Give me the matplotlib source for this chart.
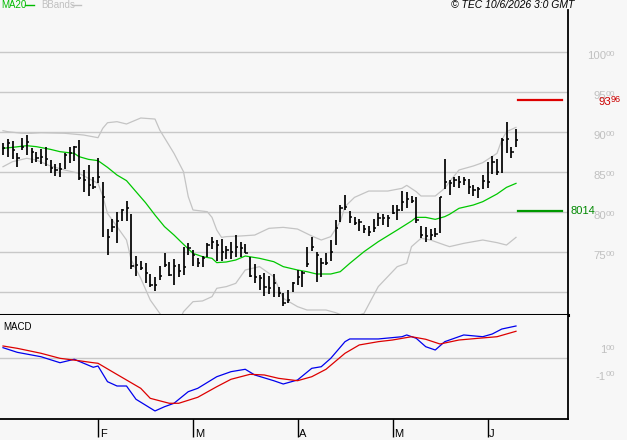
import matplotlib
matplotlib.use("Agg")
import matplotlib.pyplot as plt

plt.rcParams['font.family'] = ['Liberation Sans', 'DejaVu Sans']

# ---------------- data ----------------
high = [8866, 8908, 8888, 8733, 8921, 8962, 8796, 8754, 8783, 8817,
        8650, 8600, 8617, 8742, 8808, 8825, 8900, 8525, 8588, 8442,
        8671, 8379, 7783, 7908, 8004, 8037, 8133, 7971, 7450, 7387,
        7358, 7225, 7192, 7325, 7483, 7379, 7408, 7350, 7567, 7608,
        7525, 7421, 7450, 7608, 7692, 7650, 7658, 7575, 7629, 7712,
        7621, 7600, 7442, 7350, 7212, 7233, 7200, 7225, 7067, 6992,
        7025, 7121, 7275, 7267, 7558, 7683, 7504, 7421, 7492, 7650,
        7900, 8087, 8212, 8017, 7942, 7917, 7838, 7825, 7908, 7983,
        7975, 7962, 8083, 8087, 8262, 8254, 8200, 8183, 7825, 7808,
        7787, 7796, 8192, 8658, 8400, 8433, 8450, 8433, 8408, 8338,
        8317, 8462, 8629, 8700, 8658, 8921, 9121, 8817, 9038]
low = [8712, 8692, 8658, 8567, 8775, 8712, 8617, 8629, 8600, 8575,
       8492, 8450, 8433, 8537, 8617, 8642, 8400, 8254, 8200, 8288,
       8367, 7683, 7467, 7754, 7617, 7887, 7887, 7283, 7200, 7275,
       7117, 7067, 7017, 7150, 7317, 7200, 7083, 7183, 7208, 7462,
       7329, 7308, 7317, 7442, 7533, 7383, 7392, 7408, 7408, 7442,
       7442, 7483, 7192, 7117, 7025, 6950, 6975, 6933, 6942, 6825,
       6867, 7004, 7088, 7067, 7308, 7508, 7129, 7192, 7338, 7392,
       7587, 7879, 8025, 7867, 7838, 7767, 7742, 7700, 7754, 7829,
       7838, 7808, 7975, 7900, 8017, 8046, 8108, 7867, 7671, 7621,
       7650, 7683, 7742, 8283, 8212, 8317, 8296, 8338, 8225, 8200,
       8171, 8283, 8304, 8475, 8462, 8492, 8742, 8671, 8817]
close = [8796, 8858, 8775, 8671, 8817, 8879, 8754, 8671, 8692, 8658,
         8546, 8525, 8533, 8712, 8733, 8808, 8421, 8400, 8338, 8317,
         8442, 8183, 7692, 7817, 7892, 8025, 8046, 7330, 7338, 7296,
         7233, 7088, 7088, 7204, 7338, 7212, 7325, 7267, 7317, 7546,
         7462, 7358, 7429, 7587, 7629, 7587, 7504, 7525, 7504, 7567,
         7546, 7492, 7204, 7192, 7171, 7067, 7054, 7108, 6983, 6867,
         6900, 7108, 7192, 7242, 7346, 7558, 7462, 7358, 7358, 7504,
         7804, 8046, 8067, 7942, 7867, 7879, 7783, 7754, 7796, 7921,
         7921, 7921, 7983, 8025, 8129, 8158, 8137, 7900, 7712, 7700,
         7712, 7725, 8183, 8379, 8358, 8400, 8379, 8400, 8317, 8275,
         8283, 8392, 8379, 8629, 8504, 8900, 8908, 8754, 8900]

ma_idx = [0, 2, 5, 7, 10, 12, 15, 16, 18, 20, 22, 24, 26, 28, 30, 32, 34, 36, 38, 40,
          42, 44, 45, 47, 49, 51, 54, 57, 59, 62, 64, 66, 69, 71, 73, 76, 79, 83, 86, 87,
          89, 91, 93, 94, 96, 99, 101, 104, 106, 108]
ma_val = [8796, 8808, 8829, 8817, 8783, 8754, 8733, 8692, 8658, 8642,
          8558, 8462, 8392, 8254, 8117, 7962, 7817, 7712, 7596, 7483,
          7442, 7421, 7367, 7375, 7400, 7450, 7421, 7379, 7317, 7275,
          7254, 7225, 7225, 7254, 7358, 7504, 7629, 7775, 7887, 7933,
          7933, 7908, 7942, 7971, 8046, 8087, 8129, 8225, 8308, 8358]

bbu_idx = [0, 1, 4, 6, 8, 13, 17, 20, 21, 22, 24, 26, 29, 32, 33, 36, 38, 39, 40, 43,
           44, 45, 46, 47, 50, 53, 56, 59, 62, 65, 67, 69, 71, 72, 74, 77, 81, 84, 85, 87,
           88, 91, 93, 94, 96, 99, 101, 104, 105, 106, 108]
bbu_val = [9016, 9004, 8984, 8984, 8991, 8984, 8962, 8929, 9046, 9116,
           9129, 9100, 9175, 9162, 9025, 8733, 8504, 8192, 8025, 8004,
           7933, 7775, 7683, 7692, 7700, 7712, 7796, 7808, 7787, 7700,
           7650, 7692, 7879, 8067, 8183, 8262, 8262, 8296, 8333, 8254,
           8200, 8200, 8296, 8379, 8525, 8575, 8617, 8733, 8900, 9004, 9058]

bbl_idx = [0, 2, 5, 7, 10, 13, 16, 20, 21, 22, 24, 26, 27, 29, 31, 33, 35, 37, 38, 40,
           42, 44, 45, 47, 49, 51, 54, 57, 59, 62, 64, 68, 70, 73, 76, 79, 83, 85, 86, 88,
           90, 93, 94, 97, 101, 104, 106, 108]
bbl_val = [8566, 8629, 8671, 8650, 8575, 8525, 8483, 8358, 8200, 7983,
           7817, 7650, 7400, 7171, 6900, 6733, 6588, 6625, 6754, 6879,
           6888, 6942, 7046, 7067, 7108, 7275, 7317, 7192, 6921, 6817,
           6775, 6775, 6742, 6675, 6733, 7067, 7317, 7358, 7567, 7671,
           7650, 7587, 7567, 7608, 7650, 7617, 7587, 7683]

macd_idx = [0, 3, 8, 12, 15, 19, 20, 22, 24, 26, 28, 32, 34, 36, 39, 41, 45, 48, 51, 53,
            57, 59, 62, 65, 67, 69, 72, 73, 79, 84, 85, 87, 89, 91, 93, 97, 101, 103, 105, 108]
macd_val = [129, 71, 16, -59, -16, -116, -100, -296, -350, -350,
            -516, -662, -609, -566, -421, -379, -234, -171, -141, -212,
            -284, -325, -275, -129, -109, -4, 204, 238, 238, 266,
            288, 246, 141, 100, 204, 288, 266, 300, 362, 400]

sig_idx = [0, 3, 8, 12, 16, 19, 20, 23, 26, 29, 31, 35, 37, 41, 45, 48, 52, 55, 58, 62,
           65, 68, 72, 75, 79, 82, 86, 89, 92, 96, 100, 104, 108]
sig_val = [150, 121, 59, -4, -34, -59, -66, -171, -275, -379,
           -504, -566, -566, -491, -359, -266, -204, -212, -254, -284,
           -234, -141, 59, 163, 204, 225, 266, 234, 175, 225,
           246, 266, 334]

month_idx = [20, 40, 62, 82, 102]
month_lab = ['F', 'M', 'A', 'M', 'J']
price_ticks = [7500, 8000, 8500, 9000, 9500, 10000]
grid_levels = [7000, 7500, 8000, 8500, 9000, 9500, 10000]
resistance = 9396
support = 8014
macd_labels = [(100, '1'), (-237, '-1')]

# ---------------- layout ----------------
W, H = 627, 440
fig = plt.figure(figsize=(W / 100, H / 100), dpi=100)
BG = '#f7f7f7'
fig.patch.set_facecolor(BG)

def fy(py):
    return 1 - py / H

ax = fig.add_axes([0, fy(315), 568 / W, (315 - 10) / H])
mx = fig.add_axes([0, fy(419), 568 / W, (419 - 315) / H], sharex=ax)
for a in (ax, mx):
    a.set_facecolor(BG)
    a.spines['left'].set_visible(False)
    a.spines['top'].set_visible(False)
    a.spines['right'].set_color('black')
    a.spines['right'].set_linewidth(1.3)
    a.tick_params(left=False, right=False, labelleft=False, labelright=False)

ax.spines['bottom'].set_linewidth(2.2)
ax.spines['bottom'].set_color('black')
mx.spines['bottom'].set_linewidth(1.3)

x0 = -3 / 4.75
x1 = (568 - 3) / 4.75
ax.set_xlim(x0, x1)
ax.set_ylim(6712.5, 10525)
mx.set_ylim(-762.5, 537.5)

GRID = '#c8c8c8'
for g in grid_levels:
    ax.axhline(g, color=GRID, lw=1.0, zorder=1)
mx.axhline(0, color=GRID, lw=1.0, zorder=1)

# Bollinger bands and MA
ax.plot(bbu_idx, bbu_val, color='#c4c4c4', lw=0.9, zorder=2)
ax.plot(bbl_idx, bbl_val, color='#c4c4c4', lw=0.9, zorder=2)
ax.plot(ma_idx, ma_val, color='#00c800', lw=0.9, zorder=3)

# OHLC-style bars
idx = list(range(len(close)))
ax.vlines(idx, low, high, color='black', lw=1.25, zorder=4)
ax.hlines(close, idx, [i + 0.5 for i in idx], color='black', lw=1.1, zorder=4)

# Support / resistance
xt = ax.get_yaxis_transform()
ax.plot([518 / 568, 562 / 568], [resistance, resistance], transform=xt,
        color='#dd0000', lw=1.6, clip_on=False, zorder=5)
ax.plot([518 / 568, 562 / 568], [support, support], transform=xt,
        color='#009900', lw=1.6, clip_on=False, zorder=5)

# Right price labels
LAB = '#c0c0c0'
for p in price_ticks:
    big = str(p // 100)
    yy = p - 55
    ax.text(606 / 568, yy, big, transform=xt, ha='right', va='center',
            fontsize=8.2, color=LAB, clip_on=False)
    ax.text(606 / 568, yy + 30, '00', transform=xt, ha='left', va='center',
            fontsize=6, color=LAB, clip_on=False)

ax.text(611 / 568, resistance - 25, str(resistance // 100), transform=xt, ha='right',
        va='center', fontsize=8.2, color='#cc0000', clip_on=False, zorder=6)
ax.text(611 / 568, resistance + 5, '%02d' % (resistance % 100), transform=xt, ha='left',
        va='center', fontsize=6.5, color='#cc0000', clip_on=False, zorder=6)
ax.text(570 / 568, support, str(support), transform=xt, ha='left',
        va='center', fontsize=8, color='#008800', clip_on=False, zorder=6)

# MACD
mx.plot(macd_idx, macd_val, color='#0000ee', lw=0.9, zorder=3)
mx.plot(sig_idx, sig_val, color='#dd0000', lw=0.9, zorder=4)
mt = mx.get_yaxis_transform()
for v, big in macd_labels:
    mx.text(606 / 568, v, big, transform=mt, ha='right', va='center',
            fontsize=8.2, color=LAB, clip_on=False)
    mx.text(606 / 568, v + 25, '00', transform=mt, ha='left', va='center',
            fontsize=6, color=LAB, clip_on=False)
mx.text(0.005, 0.88, 'MACD', transform=mx.transAxes, ha='left', va='center',
        fontsize=7, color='black')

# Month ticks
mx.set_xticks(month_idx)
mx.set_xticklabels([''] * len(month_idx))
mx.tick_params(axis='x', direction='out', length=13, width=1.0, color='black',
               bottom=True, labelbottom=True)
ax.tick_params(axis='x', bottom=False, labelbottom=False)
mxt = mx.get_xaxis_transform()
for m, lab in zip(month_idx, month_lab):
    mx.text(m + 0.35, -0.14, lab, transform=mxt, ha='left', va='center',
            fontsize=8, color='black', clip_on=False)

# Header texts
fig.text(1 / W, fy(5), 'MA20', ha='left', va='center', fontsize=7, color='#00bb00')
fig.add_artist(plt.Line2D([25 / W, 34 / W], [fy(5), fy(5)], color='#00bb00', lw=1.0))
fig.text(41 / W, fy(5), 'BBands', ha='left', va='center', fontsize=7, color='#c0c0c0')
fig.add_artist(plt.Line2D([72 / W, 81 / W], [fy(5), fy(5)], color='#c0c0c0', lw=1.0))
fig.text(574 / W, fy(5), '\u00a9 TEC 10/6/2026 3:0 GMT', ha='right', va='center',
         fontsize=7.5, style='italic', color='black')

fig.savefig('out.png', dpi=100, facecolor=BG)
